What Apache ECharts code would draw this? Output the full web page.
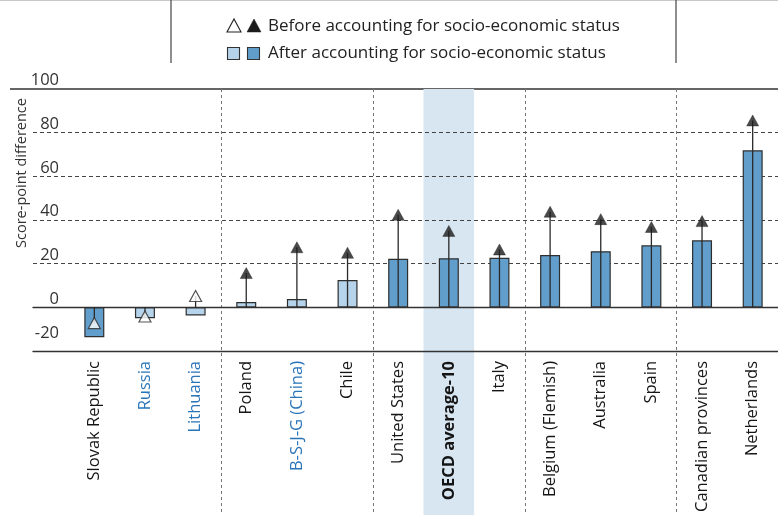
<!DOCTYPE html>
<html>
<head>
<meta charset="utf-8">
<style>
  html, body { margin: 0; padding: 0; background: #fff; }
  #chart { width: 778px; height: 515px; }
</style>
<script src="https://cdn.jsdelivr.net/npm/echarts@6/dist/echarts.min.js"></script>
</head>
<body>
<div id="chart"></div>
<script>
// Score-point difference before / after accounting for socio-economic status
const categories = [
  'Slovak Republic', 'Russia', 'Lithuania', 'Poland', 'B-S-J-G (China)', 'Chile',
  'United States', 'OECD average-10', 'Italy', 'Belgium (Flemish)', 'Australia',
  'Spain', 'Canadian provinces', 'Netherlands'
];
// After accounting for socio-economic status (bars)
const afterValues = [-13.7, -5.0, -3.7, 2.4, 3.8, 12.5, 22.2, 22.5, 22.7, 24.0, 25.7, 28.4, 30.7, 71.9];
// Before accounting for socio-economic status (triangles)
const beforeValues = [-7.2, -4.2, 5.2, 15.7, 27.5, 25.0, 42.4, 35.0, 26.5, 43.8, 40.4, 36.8, 39.5, 85.6];
// Statistically significant differences are drawn in the darker tone
const afterSignificant = [true, false, false, false, false, false, true, true, true, true, true, true, true, true];
const beforeSignificant = [false, false, false, true, true, true, true, true, true, true, true, true, true, true];
// Partner economies (labelled in blue) and the average column (highlighted)
const partnerEconomies = ['Russia', 'Lithuania', 'B-S-J-G (China)'];
const averageName = 'OECD average-10';
const yTicks = { min: -20, max: 100, interval: 20 };

const FONT = '"Open Sans", "Noto Sans", sans-serif';
const DARK_BLUE = '#629ecc';
const LIGHT_BLUE = '#b5d3ea';
const INK = '#151515';

const chart = echarts.init(document.getElementById('chart'), null, { renderer: 'canvas' });

const option = {
  animation: false,
  backgroundColor: '#fff',
  textStyle: { fontFamily: FONT },
  grid: [
    // 0: horizontal reference lines and value labels
    { left: 33, right: 0, top: 89, height: 262, outerBoundsMode: 'none', containLabel: false },
    // 1: column separators and highlight, reaching down through the label area
    { left: 69, right: 0, top: 89, bottom: 0, outerBoundsMode: 'none', containLabel: false },
    // 2: the data marks
    { left: 69, right: 0, top: 89, height: 262, outerBoundsMode: 'none', containLabel: false }
  ],
  xAxis: [
    { // bottom frame line at -20
      gridIndex: 0, type: 'value', min: 0, max: 1, position: 'bottom', z: 1,
      axisLine: { show: true, onZero: false, lineStyle: { color: '#333', width: 1.3 } },
      axisTick: { show: false }, axisLabel: { show: false }, splitLine: { show: false }
    },
    { // zero line
      gridIndex: 0, type: 'value', min: 0, max: 1, position: 'top', z: 1,
      axisLine: { show: true, onZero: true, lineStyle: { color: '#333', width: 1.3 } },
      axisTick: { show: false }, axisLabel: { show: false }, splitLine: { show: false }
    },
    { // column separators
      gridIndex: 1, type: 'category', data: categories, z: 1,
      axisLine: { show: false }, axisTick: { show: false }, axisLabel: { show: false },
      splitLine: {
        show: true, showMinLine: false, showMaxLine: false,
        lineStyle: { color: '#777', width: 1, type: [3, 3] }
      }
    },
    { // category labels
      gridIndex: 2, type: 'category', data: categories, position: 'bottom',
      axisLine: { show: false }, axisTick: { show: false }, splitLine: { show: false },
      axisLabel: {
        interval: 0, rotate: 90, margin: 10,
        formatter: function (name) {
          if (name === averageName) return '{avg|' + name + '}';
          if (partnerEconomies.indexOf(name) >= 0) return '{partner|' + name + '}';
          return '{member|' + name + '}';
        },
        rich: {
          member: { fontFamily: FONT, fontSize: 16.5, color: INK },
          partner: { fontFamily: FONT, fontSize: 16.5, color: '#2a75b9' },
          avg: { fontFamily: FONT, fontSize: 16.5, color: INK, fontWeight: 'bold' }
        }
      }
    }
  ],
  yAxis: [
    {
      gridIndex: 0, type: 'value', min: yTicks.min, max: yTicks.max, interval: yTicks.interval, z: 1,
      axisLine: { show: false }, axisTick: { show: false },
      axisLabel: {
        inside: true, align: 'right', margin: 26, verticalAlign: 'bottom',
        fontFamily: FONT, fontSize: 16.5, color: '#333',
        formatter: function (v) { return v === yTicks.min ? '{low|' + v + '}' : '{std|' + v + '}'; },
        rich: {
          std: { fontFamily: FONT, fontSize: 16.5, color: '#333', padding: [0, 0, 0, 0] },
          low: { fontFamily: FONT, fontSize: 16.5, color: '#333', padding: [0, 0, 9, 0] }
        }
      },
      splitLine: {
        show: true, showMinLine: false, showMaxLine: false,
        lineStyle: { color: '#444', width: 1, type: [4, 3] }
      }
    },
    { gridIndex: 1, type: 'value', min: 0, max: 1, show: false },
    { gridIndex: 2, type: 'value', min: yTicks.min, max: yTicks.max, interval: yTicks.interval, show: false }
  ],
  series: [
    { // highlighted average column
      type: 'bar', xAxisIndex: 2, yAxisIndex: 1, z: 0, silent: true,
      barWidth: '100%',
      data: categories.map(c => (c === averageName ? 1 : null)),
      itemStyle: { color: '#d8e6f2' }
    },
    { // after accounting for socio-economic status
      type: 'bar', xAxisIndex: 3, yAxisIndex: 2, z: 2, barWidth: 20,
      data: afterValues.map((v, i) => ({
        value: v,
        itemStyle: {
          color: afterSignificant[i] ? DARK_BLUE : LIGHT_BLUE,
          borderColor: '#2e2e2e', borderWidth: 1.2
        }
      }))
    },
    { // stems from zero to the unadjusted value
      type: 'custom', xAxisIndex: 3, yAxisIndex: 2, z: 3,
      data: beforeValues.map((v, i) => [i, v]),
      renderItem: function (params, api) {
        const p0 = api.coord([api.value(0), 0]);
        const p1 = api.coord([api.value(0), api.value(1)]);
        return {
          type: 'line',
          shape: { x1: p0[0], y1: p0[1], x2: p1[0], y2: p1[1] },
          style: { stroke: '#2a2a2a', lineWidth: 1.3 }
        };
      }
    },
    { // before accounting for socio-economic status
      type: 'scatter', xAxisIndex: 3, yAxisIndex: 2, z: 4,
      symbol: 'triangle', symbolSize: [12, 11],
      data: beforeValues.map((v, i) => ({
        value: [i, v],
        itemStyle: beforeSignificant[i]
          ? { color: '#1c1c1c', borderColor: '#1c1c1c', borderWidth: 0.5 }
          : { color: '#fff', borderColor: '#2a2a2a', borderWidth: 1.2 }
      }))
    }
  ],
  graphic: [
    // frame of the legend panel
    { type: 'line', shape: { x1: 0, y1: 0.5, x2: 778, y2: 0.5 }, style: { stroke: '#c8c8c8', lineWidth: 1 }, silent: true },
    { type: 'line', shape: { x1: 171, y1: 0, x2: 171, y2: 63 }, style: { stroke: '#444', lineWidth: 1.2 }, silent: true },
    { type: 'line', shape: { x1: 676, y1: 0, x2: 676, y2: 63 }, style: { stroke: '#444', lineWidth: 1.2 }, silent: true },
    // top frame line at 100, running out to the left edge
    { type: 'line', shape: { x1: 10, y1: 89, x2: 778, y2: 89 }, style: { stroke: '#333', lineWidth: 1.3 }, silent: true },
    // legend icons
    { type: 'polygon', shape: { points: [[227, 32], [241, 32], [234, 19]] }, style: { fill: '#fff', stroke: '#222', lineWidth: 1.1 }, silent: true },
    { type: 'polygon', shape: { points: [[247, 32], [261, 32], [254, 19]] }, style: { fill: '#1c1c1c', stroke: '#1c1c1c', lineWidth: 0.5 }, silent: true },
    { type: 'rect', shape: { x: 227.5, y: 47.5, width: 12, height: 12 }, style: { fill: LIGHT_BLUE, stroke: '#333', lineWidth: 1.1 }, silent: true },
    { type: 'rect', shape: { x: 247.5, y: 47.5, width: 12, height: 12 }, style: { fill: DARK_BLUE, stroke: '#333', lineWidth: 1.1 }, silent: true },
    { type: 'text', x: 268, y: 26, style: { text: 'Before accounting for socio-economic status', fontFamily: FONT, fontSize: 17, fill: '#222', verticalAlign: 'middle', align: 'left' }, silent: true },
    { type: 'text', x: 268, y: 53, style: { text: 'After accounting for socio-economic status', fontFamily: FONT, fontSize: 17, fill: '#222', verticalAlign: 'middle', align: 'left' }, silent: true },
    // value axis title
    { type: 'text', x: 22, y: 173, rotation: Math.PI / 2, style: { text: 'Score-point difference', fontFamily: FONT, fontSize: 14.5, fill: '#333', align: 'center', verticalAlign: 'middle' }, silent: true }
  ]
};

chart.setOption(option);
</script>
</body>
</html>
